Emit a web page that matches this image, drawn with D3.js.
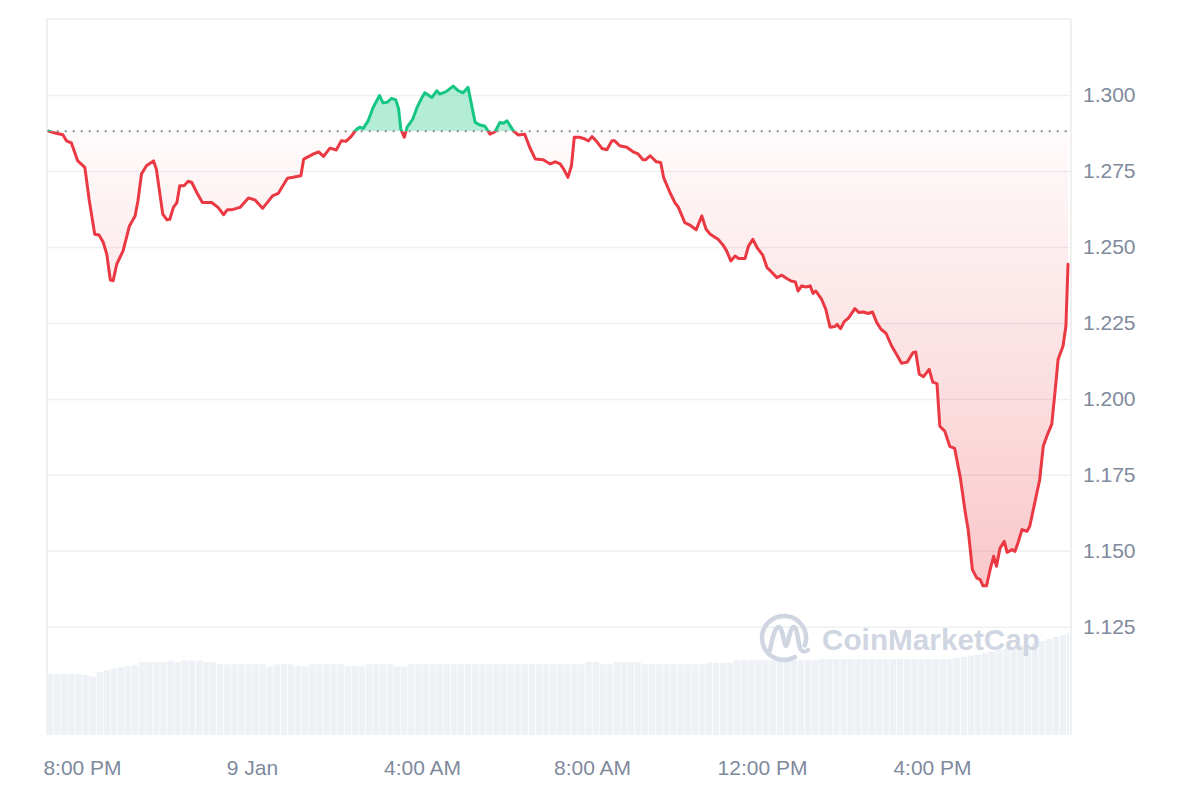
<!DOCTYPE html>
<html><head><meta charset="utf-8">
<script src="https://cdn.jsdelivr.net/npm/d3@7"></script>
<style>
body{margin:0;background:#fff;}
svg{display:block;font-family:"Liberation Sans",Arial,Helvetica,sans-serif;}
</style>
</head><body>
<svg id="chart" width="1200" height="800"></svg>
<script>
// ---- data (minutes relative to 8:00 PM, 8 Jan) ----
const priceMinutes = [
 -47,-38,-27,-22,-15,-6,4,10,18,24,
 30,35,40,44,49,58,67,75,79,84,
 91,101,105,114,120,124,129,134,138,144,
 150,155,162,170,183,192,200,205,211,223,
 235,244,255,269,277,290,298,309,313,327,
 334,341,350,359,366,373,379,388,392,397,
 404,411,420,425,431,437,443,447,450,455,
 459,467,473,480,484,494,501,505,514,524,
 531,538,545,555,562,569,576,583,590,595,
 600,609,616,625,632,640,651,661,668,675,
 680,686,691,695,702,708,715,720,727,734,
 741,748,752,759,769,778,785,792,796,802,
 811,817,821,830,837,842,851,858,867,875,
 881,887,894,898,905,910,916,922,927,936,
 941,947,953,961,967,972,981,988,995,1001,
 1007,1011,1016,1022,1028,1032,1036,1044,1050,1056,
 1063,1066,1071,1076,1082,1091,1097,1103,1110,1116,
 1122,1128,1135,1143,1150,1157,1165,1173,1177,1182,
 1188,1196,1201,1207,1211,1218,1225,1232,1240,1247,
 1251,1257,1263,1268,1272,1277,1282,1287,1291,1296,
 1302,1306,1313,1317,1322,1327,1334,1338,1345,1352,
 1357,1363,1369,1374,1378,1385,1389,1392
];
const prices = [
 1.2881,1.2875,1.2869,1.2849,1.2842,1.2783,1.2762,1.2657,1.2542,1.2539,
 1.2515,1.2476,1.2391,1.2389,1.2443,1.2487,1.2569,1.2602,1.2652,1.2740,
 1.2767,1.2783,1.2756,1.2608,1.2589,1.2591,1.2630,1.2646,1.2701,1.2701,
 1.2716,1.2712,1.2679,1.2646,1.2646,1.2630,1.2606,1.2622,1.2622,1.2630,
 1.2661,1.2655,1.2627,1.2668,1.2676,1.2726,1.2729,1.2734,1.2789,1.2806,
 1.2813,1.2798,1.2825,1.2819,1.2849,1.2848,1.2861,1.2888,1.2894,1.2890,
 1.2915,1.2959,1.2998,1.2974,1.2976,1.2989,1.2984,1.2954,1.2888,1.2861,
 1.2894,1.2921,1.2959,1.2992,1.3007,1.2992,1.3014,1.3003,1.3011,1.3029,
 1.3014,1.3007,1.3025,1.2910,1.2901,1.2897,1.2871,1.2879,1.2910,1.2907,
 1.2915,1.2882,1.2868,1.2871,1.2828,1.2789,1.2787,1.2773,1.2780,1.2773,
 1.2756,1.2729,1.2767,1.2861,1.2861,1.2857,1.2849,1.2863,1.2846,1.2824,
 1.2820,1.2849,1.2849,1.2833,1.2828,1.2813,1.2806,1.2787,1.2787,1.2800,
 1.2780,1.2778,1.2729,1.2679,1.2646,1.2630,1.2580,1.2572,1.2556,1.2602,
 1.2558,1.2542,1.2531,1.2525,1.2506,1.2487,1.2454,1.2470,1.2462,1.2462,
 1.2503,1.2525,1.2498,1.2473,1.2432,1.2421,1.2399,1.2407,1.2396,1.2388,
 1.2385,1.2355,1.2372,1.2368,1.2372,1.2347,1.2355,1.2328,1.2295,1.2236,
 1.2238,1.2245,1.2231,1.2254,1.2266,1.2297,1.2284,1.2286,1.2281,1.2286,
 1.2251,1.2229,1.2216,1.2174,1.2146,1.2117,1.2121,1.2152,1.2154,1.2081,
 1.2073,1.2097,1.2055,1.2050,1.1910,1.1894,1.1844,1.1837,1.1740,1.1625,
 1.1570,1.1438,1.1411,1.1405,1.1385,1.1385,1.1438,1.1482,1.1449,1.1509,
 1.1531,1.1495,1.1504,1.1498,1.1531,1.1570,1.1564,1.1581,1.1658,1.1734,
 1.1844,1.1883,1.1916,1.2031,1.2130,1.2174,1.2240,1.2443
];
const openPrice = 1.2881;
// 24h volume (millions USD), one bar per 10 minutes from the window start
const volumeStartMinute = -49.4;
const volumeStepMinutes = 10;
const volumes = [
 610,610,610,610,610,600,583,630,650,670,680,690,700,
 730,730,730,730,743,730,745,745,745,730,730,
 707,707,707,707,707,707,707,687,707,707,707,687,687,
 707,707,707,707,707,687,687,687,707,707,707,707,687,687,
 707,707,707,707,707,707,707,707,707,707,707,707,707,707,707,707,707,707,707,707,707,707,707,707,707,
 730,730,707,707,727,727,727,727,
 707,707,707,707,707,707,707,707,707,
 723,723,723,723,
 747,747,747,747,747,747,747,747,747,747,747,747,
 760,760,760,760,760,760,760,760,760,760,760,760,760,760,760,760,760,760,760,
 770,780,795,805,815,835,850,865,880,895,905,920,940,960,980,1000,1020
];
const windowMinutes = [-49.4, 1396.2];
const yTickValues = [1.125,1.15,1.175,1.2,1.225,1.25,1.275,1.3];
const yTickLabels = ["1.125","1.150","1.175","1.200","1.225","1.250","1.275","1.300"];
const xTickMinutes = [0,240,480,720,960,1200];
const xTickLabels = ["8:00 PM","9 Jan","4:00 AM","8:00 AM","12:00 PM","4:00 PM"];

// ---- setup ----
const base = new Date(2025,0,8,20,0,0);
const toDate = m => new Date(base.getTime() + m*60000);
const M = {left:47, right:1071, top:19, bottom:735};
const svg = d3.select("#chart");

const x = d3.scaleTime().domain(windowMinutes.map(toDate)).range([M.left, M.right]);
const y = d3.scaleLinear().domain([1.0894, 1.325]).range([M.bottom, M.top]);
const yVol = d3.scaleLinear().domain([0, 1150]).range([M.bottom, M.bottom - 115]);

const data = priceMinutes.map((m,i)=>({t:toDate(m), p:prices[i]}));
const yBase = y(openPrice);

const defs = svg.append("defs");
const grad = defs.append("linearGradient").attr("id","redGrad")
  .attr("gradientUnits","userSpaceOnUse").attr("x1",0).attr("x2",0)
  .attr("y1",yBase).attr("y2",y(d3.min(prices)));
grad.append("stop").attr("offset",0).attr("stop-color","#ea3943").attr("stop-opacity",0.02);
grad.append("stop").attr("offset",1).attr("stop-color","#ea3943").attr("stop-opacity",0.28);
defs.append("clipPath").attr("id","above").append("rect")
  .attr("x",0).attr("y",0).attr("width",1200).attr("height",yBase);
defs.append("clipPath").attr("id","below").append("rect")
  .attr("x",0).attr("y",yBase).attr("width",1200).attr("height",800-yBase);

// ---- grid + right axis ----
const yAxis = d3.axisRight(y).tickValues(yTickValues)
  .tickSize(-(M.right-M.left)).tickPadding(12)
  .tickFormat((d,i)=>yTickLabels[i]);
const gy = svg.append("g").attr("transform",`translate(${M.right},0)`).call(yAxis);
gy.select(".domain").remove();
gy.selectAll(".tick line").attr("stroke","#eff0f2").attr("stroke-width",1.5);
gy.selectAll(".tick text").attr("fill","#808a9d").attr("font-size",21)
  .attr("font-family","'Liberation Sans',Arial,sans-serif");

// borders
const frame = svg.append("g").attr("stroke","#ececec").attr("stroke-width",1.6);
frame.append("line").attr("x1",M.left).attr("x2",M.right).attr("y1",M.top).attr("y2",M.top);
frame.append("line").attr("x1",M.left).attr("x2",M.left).attr("y1",M.top).attr("y2",M.bottom);
frame.append("line").attr("x1",M.right).attr("x2",M.right).attr("y1",M.top).attr("y2",M.bottom);

// ---- volume bars ----
svg.append("g").selectAll("rect").data(volumes).join("rect")
  .attr("x",(d,i)=>x(toDate(volumeStartMinute + i*volumeStepMinutes)))
  .attr("width",(d,i)=>{
     const x0 = x(toDate(volumeStartMinute + i*volumeStepMinutes));
     const x1 = Math.min(M.right-1, x(toDate(volumeStartMinute + (i+1)*volumeStepMinutes)));
     return Math.max(0, x1-x0-0.7);
  })
  .attr("y",d=>yVol(d)).attr("height",d=>M.bottom - yVol(d))
  .attr("fill","#eef1f5");

// ---- watermark ----
const wm = svg.append("g");
wm.append("path").attr("d","M795,657 A22,22 0 1 1 804.7,645.5")
  .attr("fill","none").attr("stroke","#cfd6e2").attr("stroke-width",4.5).attr("stroke-linecap","round");
wm.append("path").attr("d","M770,650 C772,640 775,626 779,627 C783,628 784,646 786,646 C788,646 790,626 794,627 C798,628 798,646 801,650 C803,652 806,652 808,650")
  .attr("fill","none").attr("stroke","#cfd6e2").attr("stroke-width",4.5).attr("stroke-linecap","round").attr("stroke-linejoin","round");
wm.append("text").attr("x",822).attr("y",650).attr("font-size",30).attr("font-weight",700)
  .attr("textLength",218).attr("lengthAdjust","spacingAndGlyphs")
  .attr("fill","#cfd6e2").text("CoinMarketCap");

// ---- areas ----
const area = d3.area().x(d=>x(d.t)).y0(yBase).y1(d=>y(d.p));
svg.append("path").datum(data).attr("d",area).attr("clip-path","url(#above)")
  .attr("fill","#16c784").attr("fill-opacity",0.32);
svg.append("path").datum(data).attr("d",area).attr("clip-path","url(#below)")
  .attr("fill","url(#redGrad)");

// baseline
svg.append("line").attr("x1",x(data[0].t)).attr("x2",x(data[data.length-1].t))
  .attr("y1",yBase).attr("y2",yBase)
  .attr("stroke","#8f8f8f").attr("stroke-width",2).attr("stroke-dasharray","2,6");

// ---- lines ----
const line = d3.line().x(d=>x(d.t)).y(d=>y(d.p));
svg.append("path").datum(data).attr("d",line).attr("clip-path","url(#above)")
  .attr("fill","none").attr("stroke","#16c784").attr("stroke-width",3)
  .attr("stroke-linejoin","round").attr("stroke-linecap","round");
svg.append("path").datum(data).attr("d",line).attr("clip-path","url(#below)")
  .attr("fill","none").attr("stroke","#ea3943").attr("stroke-width",3)
  .attr("stroke-linejoin","round").attr("stroke-linecap","round");

// ---- bottom axis ----
const xAxis = d3.axisBottom(x).tickValues(xTickMinutes.map(toDate))
  .tickSize(0).tickPadding(25).tickFormat((d,i)=>xTickLabels[i]);
const gx = svg.append("g").attr("transform",`translate(0,${M.bottom})`).call(xAxis);
gx.select(".domain").remove();
gx.selectAll(".tick text").attr("fill","#808a9d").attr("font-size",21)
  .attr("font-family","'Liberation Sans',Arial,sans-serif");
</script>
</body></html>
